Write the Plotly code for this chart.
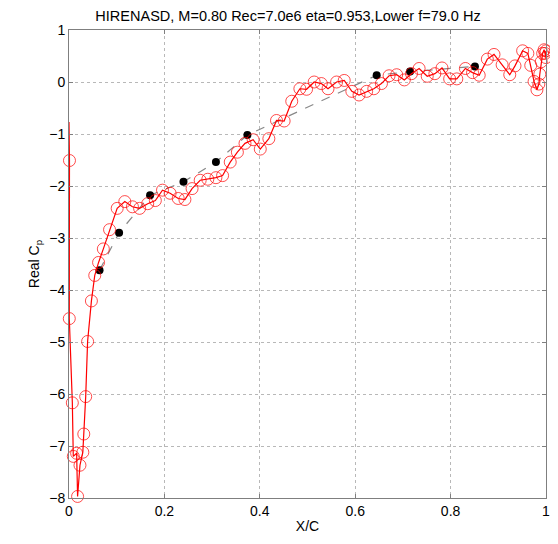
import plotly.graph_objects as go

# Red series: computed Real Cp along lower surface
red_x = [0.0, 0.001, 0.0006, 0.007, 0.009, 0.016, 0.018, 0.023, 0.029, 0.031, 0.035, 0.039,
         0.047, 0.054, 0.062, 0.072, 0.085, 0.101, 0.117, 0.133, 0.148, 0.165, 0.181, 0.196,
         0.212, 0.229, 0.243, 0.258, 0.275, 0.291, 0.308, 0.322, 0.338, 0.353, 0.369, 0.386,
         0.401, 0.419, 0.435, 0.451, 0.467, 0.484, 0.498, 0.514, 0.529, 0.543, 0.561, 0.577,
         0.593, 0.608, 0.624, 0.639, 0.655, 0.671, 0.687, 0.703, 0.718, 0.734, 0.751, 0.767,
         0.782, 0.798, 0.813, 0.831, 0.846, 0.860, 0.877, 0.891, 0.908, 0.924, 0.935, 0.951,
         0.962, 0.968, 0.975, 0.981, 0.985, 0.987, 0.990, 0.993, 0.996, 0.998, 1.0, 1.0]
red_y = [-0.77, -1.51, -4.55, -6.17, -7.20, -7.14, -7.97, -7.37, -7.12, -6.77, -6.05, -4.99,
         -4.21, -3.72, -3.47, -3.21, -2.84, -2.43, -2.30, -2.40, -2.43, -2.34, -2.28, -2.08,
         -2.14, -2.24, -2.26, -2.05, -1.89, -1.87, -1.84, -1.80, -1.54, -1.35, -1.18, -1.11,
         -1.29, -1.09, -0.74, -0.75, -0.37, -0.13, -0.14, 0.00, -0.03, -0.13, 0.00, 0.03,
         -0.18, -0.25, -0.18, -0.13, -0.03, 0.12, 0.14, 0.04, 0.16, 0.26, 0.11, 0.16,
         0.27, 0.06, 0.06, 0.26, 0.18, 0.13, 0.44, 0.53, 0.33, 0.14, 0.31, 0.60,
         0.55, 0.32, 0.01, -0.15, -0.04, 0.15, 0.39, 0.55, 0.62, 0.55, 0.47, 0.60]

# Black series: experimental values
exp_x = [0.064, 0.105, 0.170, 0.240, 0.308, 0.374, 0.645, 0.715, 0.851]
exp_y = [-3.62, -2.90, -2.18, -1.92, -1.54, -1.02, 0.13, 0.20, 0.30]

title_text = "HIRENASD, M=0.80 Rec=7.0e6 eta=0.953,Lower f=79.0 Hz"

red_sizes = [0] + [12] * (len(red_x) - 1)

FONT = "Liberation Sans, Arial, sans-serif"
W, H = 542, 528

fig = go.Figure()
fig.add_trace(go.Scatter(
    x=exp_x, y=exp_y, mode="lines+markers",
    line=dict(color="#888888", width=1.2, dash="dash"),
    marker=dict(color="black", size=8, symbol="circle"),
    showlegend=False))
fig.add_trace(go.Scatter(
    x=red_x, y=red_y, mode="lines+markers", cliponaxis=False,
    line=dict(color="red", width=1.2),
    marker=dict(color="red", size=red_sizes, symbol="circle-open",
                line=dict(color="red", width=1)),
    showlegend=False))

axis_common = dict(
    showline=True, linecolor="#7f7f7f", linewidth=1, mirror="ticks",
    ticks="inside", ticklen=4, tickcolor="#7f7f7f",
    showgrid=True, gridcolor="#b8b8b8", griddash="dot", gridwidth=1,
    zeroline=False, automargin=False, ticklabeloverflow="allow",
    tickfont=dict(family=FONT, size=14, color="black"),
)

fig.update_xaxes(range=[0, 1], tickvals=[0, 0.2, 0.4, 0.6, 0.8, 1],
                 ticktext=["0", "0.2", "0.4", "0.6", "0.8", "1"],
                 title=dict(text="X/C", standoff=3,
                            font=dict(family=FONT, size=14, color="black")),
                 **axis_common)
fig.update_yaxes(range=[-8, 1], tickvals=list(range(-8, 2)),
                 title=dict(text="Real C<sub>p</sub>", standoff=6,
                            font=dict(family=FONT, size=14, color="black")),
                 **axis_common)

fig.update_layout(
    width=W, height=H,
    margin=dict(l=61, r=4, t=22, b=38, autoexpand=False),
    paper_bgcolor="white", plot_bgcolor="white",
    title=dict(text=title_text, xref="container", x=280 / W, xanchor="center",
               yref="container", y=1 - 8 / H, yanchor="middle",
               font=dict(family=FONT, size=14.5, color="black")),
)

fig.write_html("out.html")
